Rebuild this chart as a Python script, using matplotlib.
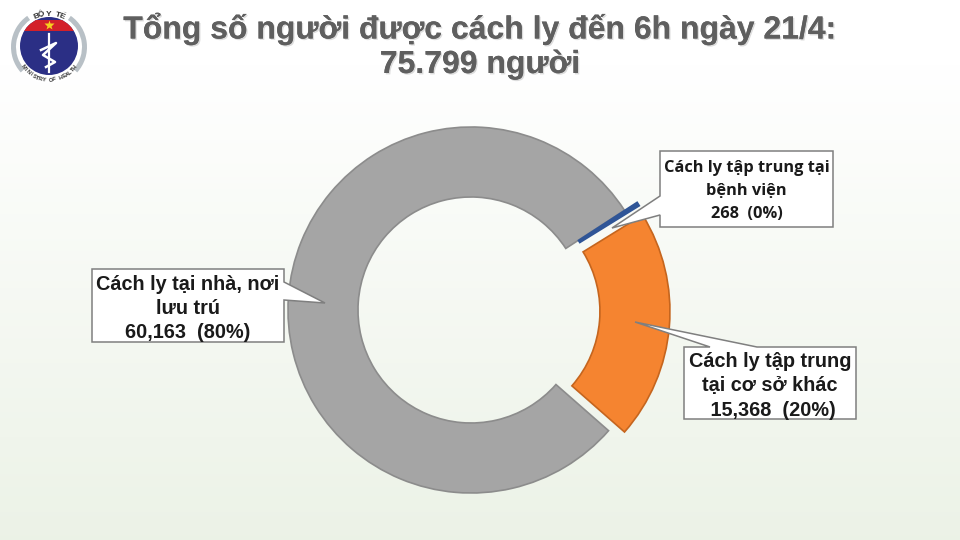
import numpy as np
import matplotlib
matplotlib.use('Agg')
import matplotlib.pyplot as plt
import matplotlib.patheffects as pe
from matplotlib.patches import Polygon, Circle, Wedge, Rectangle

title_lines = ['Tổng số người được cách ly đến 6h ngày 21/4:', '75.799 người']
values = [268, 15368, 60163]
colors = ['#2F5597', '#F58430', '#A5A5A5']
edges = ['#2F5597', '#C5651E', '#8C8C8C']
label_blue = 'Cách ly tập trung tại\nbệnh viện\n268  (0%)'
label_orange = 'Cách ly tập trung\ntại cơ sở khác\n 15,368  (20%)'
label_gray = 'Cách ly tại nhà, nơi\nlưu trú\n60,163  (80%)'

H = 540
fig = plt.figure(figsize=(9.6, 5.4), dpi=100)
ax = fig.add_axes([0, 0, 1, 1])

# background fades from white to pale green at the bottom
grad = np.clip((np.linspace(0, 1, 540) - 0.12) / 0.88, 0, 1).reshape(-1, 1, 1)
top = np.array([1.0, 1.0, 1.0]).reshape(1, 1, 3)
bottom = np.array([0.925, 0.95, 0.905]).reshape(1, 1, 3)
ax.imshow(top + (bottom - top) * grad, extent=[0, 960, 0, H], aspect='auto', zorder=0)

# donut, explode is in data units here because the axes are in pixels
wedges, _ = ax.pie(values, colors=colors, startangle=33, counterclock=False,
                   center=(471, H - 310), radius=183, explode=[15, 16, 0],
                   frame=True, wedgeprops=dict(width=70, linewidth=1.2))
for w, e in zip(wedges, edges):
    w.set_edgecolor(e)
    w.set_zorder(2)
wedges[0].set_zorder(4)


def box(x0, y0, x1, y1, ptr, text, size, fam, spacing, dy=0, z=3):
    # callout outline, ptr = (edge point, tip, edge point) in picture pixels
    if ptr[0][0] == x0:
        pts = [(x0, y0), (x1, y0), (x1, y1), (x0, y1), ptr[2], ptr[1], ptr[0]]
    elif ptr[0][0] == x1:
        pts = [(x0, y0), (x1, y0), ptr[0], ptr[1], ptr[2], (x1, y1), (x0, y1)]
    else:
        pts = [(x0, y0), ptr[0], ptr[1], ptr[2], (x1, y0), (x1, y1), (x0, y1)]
    ax.add_patch(Polygon([(a, H - b) for a, b in pts], closed=True, fc='white',
                         ec='#7F7F7F', lw=1.1, zorder=z))
    ax.text((x0 + x1) / 2, H - (y0 + y1) / 2 - dy, text, ha='center', va='center', fontsize=size,
            family=fam, fontweight='bold', color='#1A1A1A', linespacing=spacing, zorder=6)


box(660, 151, 833, 227, [(660, 196), (612, 228), (660, 215)], label_blue, 11.8, 'Open Sans', 1.62, dy=2)
box(684, 347, 856, 419, [(710, 347), (635, 322), (757, 347)], label_orange, 14.3, 'Liberation Sans', 1.36, dy=3)
box(92, 269, 284, 342, [(284, 282), (325, 303), (284, 300)], label_gray, 14.3, 'Liberation Sans', 1.36, dy=3)

# title
for line, y in zip(title_lines, [29, 65]):
    ax.text(480, H - y, line, ha='center', va='center', fontsize=23, family='Liberation Sans',
            fontweight='bold', color='#5F5F5F', zorder=6,
            path_effects=[pe.withSimplePatchShadow(offset=(1, -1), shadow_rgbFace='#AAAAAA', alpha=0.4),
                          pe.Normal()])

# ministry logo
cx, cy = 49, H - 47
ax.add_patch(Circle((cx, cy), 37, fc='white', ec='none', zorder=3))
for a0, a1 in [(125, 222), (-42, 55)]:
    ax.add_patch(Wedge((cx, cy), 38, a0, a1, width=5, fc='#B8C0C6', ec='none', zorder=3))
disc = Circle((cx, cy + 1), 29, fc='#2B2F85', ec='none', zorder=4)
ax.add_patch(disc)
red = Rectangle((cx - 30, H - 31), 60, 11, fc='#D3202A', ec='none', zorder=5)
ax.add_patch(red)
red.set_clip_path(disc)
ax.plot([cx], [H - 25], marker='*', ms=7, color='#F5D020', mec='none', zorder=6)
ax.plot([cx, cx], [H - 34, H - 72], color='white', lw=1.6, zorder=6)
ax.plot([cx - 8, cx + 7, cx - 6, cx + 6, cx - 3],
        [H - 50, H - 43, H - 55, H - 62, H - 67], color='white', lw=1.8, zorder=6)


def arc_text(s, radius, start, end, size, flip=False):
    for ch, a in zip(s, np.linspace(start, end, len(s))):
        t = np.deg2rad(a)
        rot = a + 90 if flip else a - 90
        ax.text(cx + radius * np.cos(t), cy + radius * np.sin(t), ch, ha='center', va='center',
                rotation=rot, fontsize=size, family='Liberation Sans', fontweight='bold',
                color='#333333', zorder=7)


arc_text('BỘ Y TẾ', 33, 112, 68, 6)
arc_text('MINISTRY OF HEALTH', 33, 218, 322, 4, flip=True)

ax.set_xlim(0, 960)
ax.set_ylim(0, H)
ax.set_aspect('auto')
ax.axis('off')
fig.savefig('out.png', dpi=100)
